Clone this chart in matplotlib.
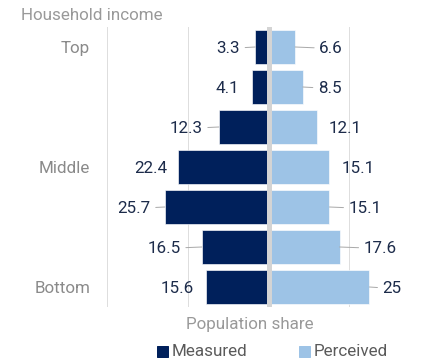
import numpy as np
import matplotlib
matplotlib.use("Agg")
import matplotlib.pyplot as plt
from matplotlib.lines import Line2D

plt.rcParams['font.family'] = ['Roboto', 'DejaVu Sans']

# data, top row first
rows = ["Top", "", "", "Middle", "", "", "Bottom"]
measured = [3.3, 4.1, 12.3, 22.4, 25.7, 16.5, 15.6]
perceived = [6.6, 8.5, 12.1, 15.1, 15.1, 17.6, 25]
measured_text = ["3.3", "4.1", "12.3", "22.4", "25.7", "16.5", "15.6"]
perceived_text = ["6.6", "8.5", "12.1", "15.1", "15.1", "17.6", "25"]

# label placement: gap (px) between bar end and label, leader line yes/no
meas_gap = [15, 13, 16, 11, 14, 21, 12]
meas_lead = [True, False, True, False, True, True, False]
perc_gap = [24, 15, 11, 12, 19, 24, 13]
perc_lead = [True, True, False, False, True, True, True]

NAVY = "#00205b"
LIGHT = "#9dc3e6"
TXT = "#1c2b4a"
GREY = "#999999"
FS = 17

fig = plt.figure(figsize=(6, 5), dpi=72)
ax = fig.add_axes([107 / 432, 53 / 360, 323 / 432, 280 / 360])

y = np.arange(len(rows))
ax.barh(y, [-v for v in measured], height=0.83, color=NAVY,
        edgecolor="white", linewidth=0.6, zorder=2)
ax.barh(y, perceived, height=0.83, color=LIGHT,
        edgecolor="white", linewidth=0.6, zorder=2)
ax.axvline(0, color="#d4d4d4", lw=5, zorder=3)

def label(x, yy, txt, gap, lead, side):
    arrow = None
    if lead:
        arrow = dict(arrowstyle="-", color="#aaaaaa", lw=1, shrinkA=3, shrinkB=0)
    ax.annotate(txt, xy=(x, yy), xytext=(side * gap, 0), textcoords="offset points",
                ha="left" if side > 0 else "right", va="center_baseline",
                fontsize=FS, color=TXT, arrowprops=arrow, zorder=4)

for i in range(len(rows)):
    label(-measured[i], y[i], measured_text[i], meas_gap[i], meas_lead[i], -1)
    label(perceived[i], y[i], perceived_text[i], perc_gap[i], perc_lead[i], 1)

ax.set_xlim(-40, 40)
ax.set_ylim(len(rows) - 0.5, -0.5)
ax.set_xticks([-40, -20, 20, 40])
ax.set_xticklabels([])
ax.tick_params(axis="x", length=0)
ax.grid(axis="x", color="#dedede", lw=1, zorder=0)
ax.set_axisbelow(True)
ax.set_yticks([0, 3, 6])
ax.set_yticklabels(["Top", "Middle", "Bottom"])
ax.tick_params(axis="y", length=0, pad=17, labelsize=FS, labelcolor="#8a8a8a")
for s in ax.spines.values():
    s.set_visible(False)

fig.text(21 / 432, 1 - 16 / 360, "Household income", ha="left", va="center",
         fontsize=FS, color=GREY)
fig.text(250 / 432, 1 - 325 / 360, "Population share", ha="center", va="center",
         fontsize=FS, color=GREY)

handles = [Line2D([], [], marker="s", ls="", color=NAVY, markersize=11),
           Line2D([], [], marker="s", ls="", color=LIGHT, markersize=11)]
fig.legend(handles, ["Measured", "Perceived"], loc="center",
           bbox_to_anchor=(272 / 432, 1 - 352 / 360), ncol=2, frameon=False,
           fontsize=FS, labelcolor="#5a5a5a", handlelength=0.7,
           handletextpad=0.2, columnspacing=3.0, borderpad=0)

fig.savefig("out.png", dpi=72)
